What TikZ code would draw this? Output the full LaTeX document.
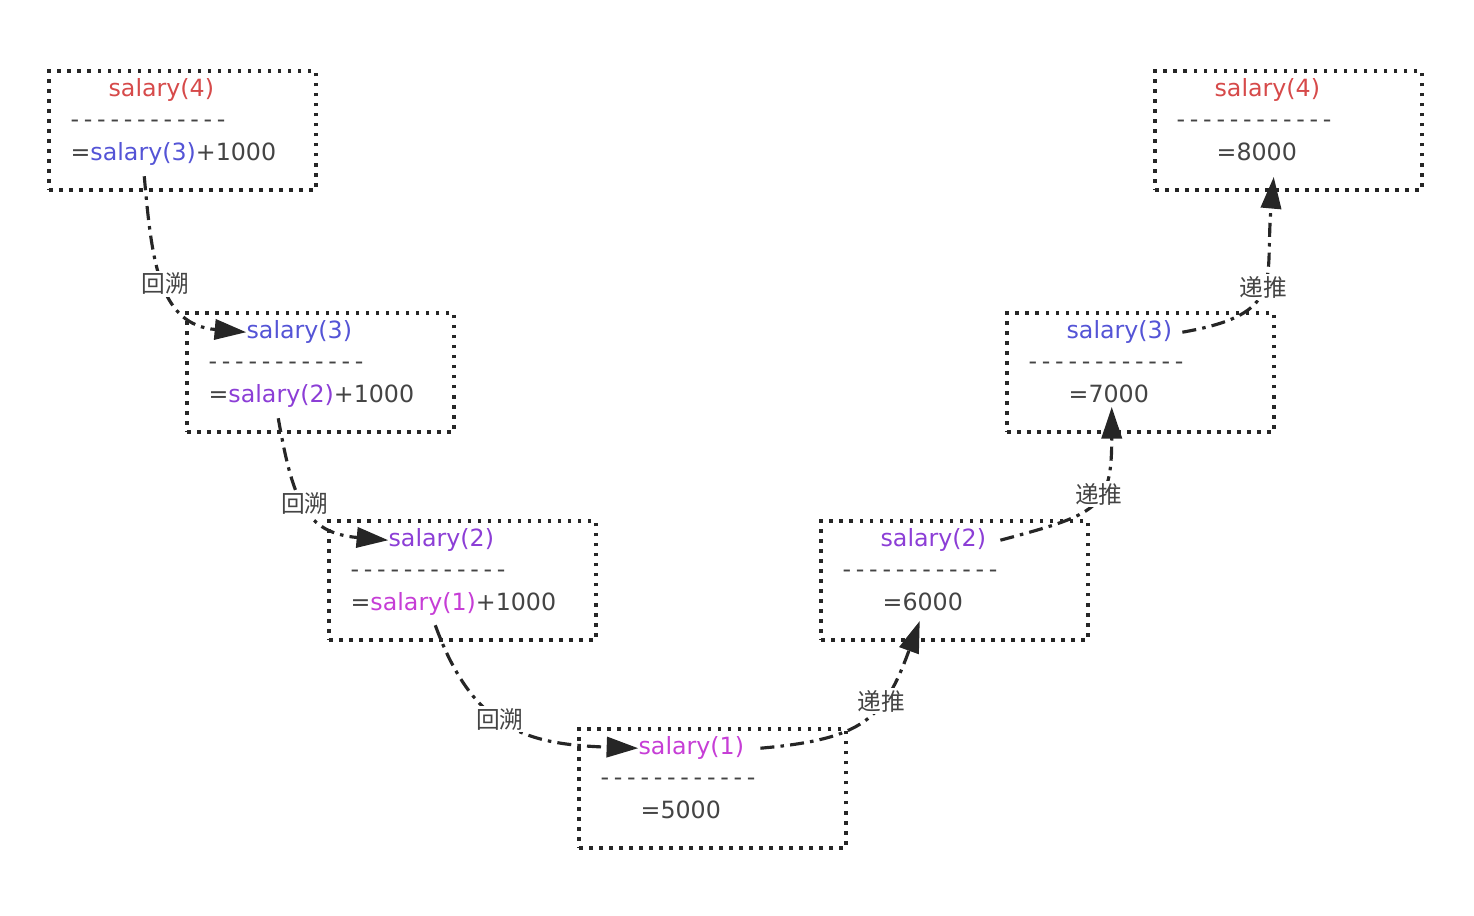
\documentclass[tikz,border=0pt]{standalone}
\usepackage{fontspec}
\setmainfont{DejaVu Sans}
\newfontfamily\cjk{Noto Sans CJK SC}
\usetikzlibrary{arrows.meta}

\definecolor{sal4}{RGB}{214,74,74}
\definecolor{sal3}{RGB}{84,84,214}
\definecolor{sal2}{RGB}{140,62,214}
\definecolor{sal1}{RGB}{198,62,214}
\definecolor{ink}{RGB}{68,68,68}
\definecolor{edge}{RGB}{38,38,38}

\newcommand{\dashrow}{-\kern.2em-\kern.2em-\kern.2em-\kern.2em-\kern.2em-\kern.2em-\kern.2em-\kern.2em-\kern.2em-\kern.2em-\kern.2em-}

\begin{document}
\begin{tikzpicture}[
    x=0.02cm,
    y=0.02cm,
    >={Triangle[length=18pt,width=11.5pt]},
    font=\fontsize{13.5pt}{16pt}\selectfont,
    salbox/.style={
      draw=edge,
      line width=2pt,
      dash pattern=on 2pt off 3.7pt,
      minimum width=5.34cm,
      minimum height=2.38cm,
      inner sep=0
    },
    line/.style={anchor=base west, inner sep=0, text=ink},
    flow/.style={->, draw=edge, line width=1.8pt, dash pattern=on 8pt off 3.5pt on 2pt off 3.5pt},
    steplabel/.style={fill=white, inner sep=1pt, text=ink, font=\cjk\fontsize{13.5pt}{16pt}\selectfont}
    ]

    \useasboundingbox (0,0) rectangle (1474,-916);

    \node [salbox] (a1) at (182.5,-130.5) {};
    \node [line] (a1h) at ([shift={(61,-27.5)}]a1.north west) {\color{sal4}salary(4)};
    \node [line] (a1r) at ([shift={(23,-58)}]a1.north west) {\dashrow};
    \node [line] (a1f) at ([shift={(23,-91)}]a1.north west) {={\color{sal3}salary(3)}+1000};

    \node [salbox] (a2) at (320.5,-372.5) {};
    \node [line] (a2h) at ([shift={(61,-27.5)}]a2.north west) {\color{sal3}salary(3)};
    \node [line] (a2r) at ([shift={(23,-58)}]a2.north west) {\dashrow};
    \node [line] (a2f) at ([shift={(23,-91)}]a2.north west) {={\color{sal2}salary(2)}+1000};

    \node [salbox] (a3) at (462.5,-580.5) {};
    \node [line] (a3h) at ([shift={(61,-27.5)}]a3.north west) {\color{sal2}salary(2)};
    \node [line] (a3r) at ([shift={(23,-58)}]a3.north west) {\dashrow};
    \node [line] (a3f) at ([shift={(23,-91)}]a3.north west) {={\color{sal1}salary(1)}+1000};

    \node [salbox] (b) at (712.5,-788.5) {};
    \node [line] (bh) at ([shift={(61,-27.5)}]b.north west) {\color{sal1}salary(1)};
    \node [line] (br) at ([shift={(23,-58)}]b.north west) {\dashrow};
    \node [line] (bf) at ([shift={(63,-91)}]b.north west) {=5000};

    \node [salbox] (c2) at (954.5,-580.5) {};
    \node [line] (c2h) at ([shift={(61,-27.5)}]c2.north west) {\color{sal2}salary(2)};
    \node [line] (c2r) at ([shift={(23,-58)}]c2.north west) {\dashrow};
    \node [line] (c2f) at ([shift={(63,-91)}]c2.north west) {=6000};

    \node [salbox] (c3) at (1140.5,-372.5) {};
    \node [line] (c3h) at ([shift={(61,-27.5)}]c3.north west) {\color{sal3}salary(3)};
    \node [line] (c3r) at ([shift={(23,-58)}]c3.north west) {\dashrow};
    \node [line] (c3f) at ([shift={(63,-91)}]c3.north west) {=7000};

    \node [salbox] (c4) at (1288.5,-130.5) {};
    \node [line] (c4h) at ([shift={(61,-27.5)}]c4.north west) {\color{sal4}salary(4)};
    \node [line] (c4r) at ([shift={(23,-58)}]c4.north west) {\dashrow};
    \node [line] (c4f) at ([shift={(63,-91)}]c4.north west) {=8000};

    \coordinate (s1) at ([shift={(74,-16)}]a1f.base west);
    \coordinate (s2) at ([shift={(70,-16)}]a2f.base west);
    \coordinate (s3) at ([shift={(85,-15)}]a3f.base west);

    \draw [flow] (s1) to[out=-85,in=175,looseness=1.2] node[steplabel,pos=.5] {回溯} (a2h.west);
    \draw [flow] (s2) to[out=-80,in=175,looseness=1.3] node[steplabel,pos=.47] {回溯} (a3h.west);
    \draw [flow] (s3) to[out=-70,in=178,looseness=1.2] node[steplabel,pos=.45] {回溯} (bh.west);

    \draw [flow] ([shift={(16,0)}]bh.east) to[out=5,in=-110,looseness=1.3] node[steplabel,pos=.63] {递推} ([shift={(-3,-10)}]c2f.south);
    \draw [flow] ([shift={(14,0)}]c2h.east) to[out=15,in=-90,looseness=1.5] node[steplabel,pos=.57] {递推} ([shift={(3,-4)}]c3f.south);
    \draw [flow] ([shift={(10,0)}]c3h.east) to[out=10,in=-95,looseness=1.5] node[steplabel,pos=.5] {递推} ([shift={(17,-16)}]c4f.south);

  \end{tikzpicture}
\end{document}
